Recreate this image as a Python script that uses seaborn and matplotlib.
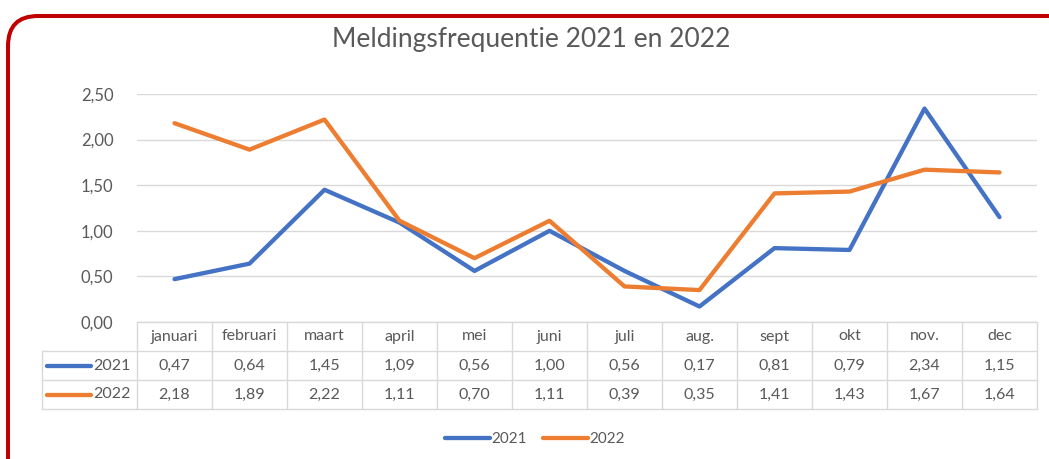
import matplotlib
matplotlib.use('Agg')
import matplotlib.pyplot as plt
import pandas as pd
import seaborn as sns
from matplotlib.patches import FancyBboxPatch
from matplotlib.lines import Line2D

months = ['januari', 'februari', 'maart', 'april', 'mei', 'juni',
          'juli', 'aug.', 'sept', 'okt', 'nov.', 'dec']
years = ['2021', '2022']
values_2021 = [0.47, 0.64, 1.45, 1.09, 0.56, 1.00, 0.56, 0.17, 0.81, 0.79, 2.34, 1.15]
values_2022 = [2.18, 1.89, 2.22, 1.11, 0.70, 1.11, 0.39, 0.35, 1.41, 1.43, 1.67, 1.64]
yticks = [0.0, 0.5, 1.0, 1.5, 2.0, 2.5]
colors = ['#4472C4', '#ED7D31']
title = 'Meldingsfrequentie 2021 en 2022'

df = pd.DataFrame({
    'maand': months * 2,
    'jaar': [years[0]] * 12 + [years[1]] * 12,
    'waarde': values_2021 + values_2022,
})

sns.set_style('white')
plt.rcParams['font.family'] = ['Lato', 'DejaVu Sans']
txt = '#595959'
grid = '#D9D9D9'
fs = 11.5

W, H = 1049, 459
fig = plt.figure(figsize=(W / 100, H / 100), dpi=100)
ax = fig.add_axes([137 / W, 1 - 322 / H, 900 / W, 228 / H])

sns.lineplot(data=df, x='maand', y='waarde', hue='jaar', palette=colors,
             linewidth=3.1, sort=False, legend=False, ax=ax)
for ln in ax.lines:
    ln.set_solid_capstyle('round')
    ln.set_solid_joinstyle('round')

ax.set_xlim(-0.5, len(months) - 0.5)
ax.set_ylim(0, 2.5)
ax.set_yticks(yticks)
ax.set_yticklabels([f'{v:.2f}'.replace('.', ',') for v in yticks], color=txt, fontsize=12)
ax.set_xticks([])
ax.set_xlabel('')
ax.set_ylabel('')
ax.tick_params(axis='y', length=0, pad=17)
ax.grid(axis='y', color=grid, linewidth=1)
ax.set_axisbelow(True)
for s in ax.spines.values():
    s.set_visible(False)

# data table below the axis
tr = ax.get_xaxis_transform()
rh = 29 / 228
px = 1 / 75  # one pixel in data units along x
left = -0.5 - (137 - 42) * px
n = len(months)
for k in range(n + 1):
    ax.plot([k - 0.5, k - 0.5], [0, -3 * rh], color=grid, lw=1, transform=tr, clip_on=False)
ax.plot([-0.5, n - 0.5], [0, 0], color=grid, lw=1, transform=tr, clip_on=False)
for r in (1, 2, 3):
    ax.plot([left, n - 0.5], [-r * rh, -r * rh], color=grid, lw=1, transform=tr, clip_on=False)
ax.plot([left, left], [-rh, -3 * rh], color=grid, lw=1, transform=tr, clip_on=False)

for i, m in enumerate(months):
    ax.text(i, -0.5 * rh, m, ha='center', va='center', color=txt, fontsize=fs,
            transform=tr, clip_on=False)
for r, (yr, vals, c) in enumerate(zip(years, [values_2021, values_2022], colors)):
    yy = -(1.5 + r) * rh
    for i, v in enumerate(vals):
        ax.text(i, yy, f'{v:.2f}'.replace('.', ','), ha='center', va='center',
                color=txt, fontsize=fs, transform=tr, clip_on=False)
    ax.plot([left + 5 * px, left + 49 * px], [yy, yy], color=c, lw=3.1,
            solid_capstyle='round', transform=tr, clip_on=False)
    ax.text(-0.5 - 6 * px, yy, yr, ha='right', va='center', color=txt,
            fontsize=fs, transform=tr, clip_on=False)

# legend at the bottom
handles = [Line2D([], [], color=c, lw=3.1, solid_capstyle='round') for c in colors]
fig.legend(handles, years, loc='center', bbox_to_anchor=(535 / W, 1 - 439 / H),
           ncol=2, frameon=False, fontsize=11, labelcolor=txt,
           handlelength=2.9, handletextpad=0.1, columnspacing=1.1)

fig.text(531 / W, 1 - 40 / H, title, ha='center', va='center', fontsize=19, color=txt)

# red rounded chart border (runs off the right and bottom edge)
border = FancyBboxPatch((0.08, -1.0), 12, 5.43,
                        boxstyle='round,pad=0,rounding_size=0.3',
                        transform=fig.dpi_scale_trans, facecolor='none',
                        edgecolor='#C00000', linewidth=2.9, clip_on=False)
fig.patches.append(border)

fig.savefig('out.png', dpi=100)
